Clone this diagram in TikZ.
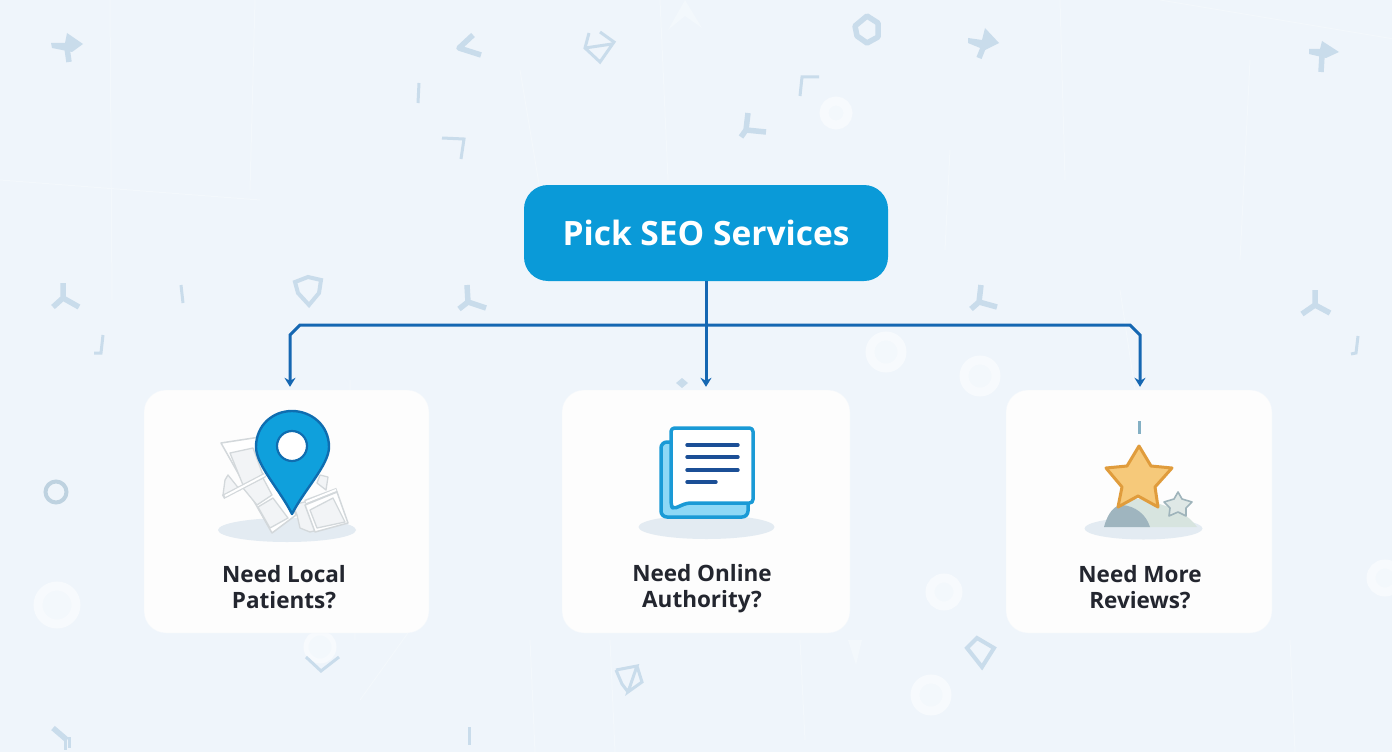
\documentclass[tikz,border=0pt]{standalone}
\usepackage{fontspec}
\setmainfont{Open Sans}
\usetikzlibrary{arrows.meta}
\definecolor{bgc}{HTML}{EFF5FB}
\definecolor{bgline}{HTML}{F3F8FC}
\definecolor{bgm}{HTML}{C9DCEB}
\definecolor{ringw}{HTML}{F7FAFD}
\definecolor{ringi}{HTML}{F3F8FC}
\definecolor{topc}{HTML}{0A9AD8}
\definecolor{connc}{HTML}{1567B2}
\definecolor{cardc}{HTML}{FDFDFD}
\definecolor{inkc}{HTML}{23262F}
\definecolor{shadowc}{HTML}{E3EBF2}
\definecolor{pinf}{HTML}{0FA0DC}
\definecolor{pind}{HTML}{0F6DB0}
\definecolor{mapl}{HTML}{D3D8DB}
\definecolor{mapf}{HTML}{F2F4F6}
\definecolor{docs}{HTML}{1A9AD6}
\definecolor{docb}{HTML}{8ED8F6}
\definecolor{docl}{HTML}{1B4F96}
\definecolor{starf}{HTML}{F6C97A}
\definecolor{stard}{HTML}{E09C3C}
\definecolor{sstarf}{HTML}{DFE8E6}
\definecolor{sstard}{HTML}{9FB4BB}
\definecolor{hilld}{HTML}{9FB5BF}
\definecolor{hilll}{HTML}{D7E4DF}
\tikzset{
  x=1pt,y=-1pt,
  bgthin/.style={draw=bgm,line width=3pt,line cap=butt,line join=miter},
  bgthick/.style={draw=bgm,line width=5.5pt,line cap=butt,line join=round},
  bgring/.style={draw=ringw,fill=ringi,line width=9pt},
  faint/.style={draw=bgline,line width=1pt},
  topbox/.style={fill=topc,rounded corners=24pt,minimum width=364pt,minimum height=96pt,text=white,font=\fontsize{33.5}{33.5}\selectfont\bfseries,inner sep=0pt},
  card/.style={fill=cardc,draw=bgline,rounded corners=22pt,minimum height=243pt,inner sep=0pt},
  lbl/.style={text=inkc,align=center,font=\fontsize{22.5}{26}\selectfont\bfseries,inner sep=0pt},
  conn/.style={draw=connc,line width=3pt,line join=miter},
  tipped/.style={conn,-{Stealth[length=9pt,width=11pt,inset=3pt]},shorten >=3pt},
  pedestal/.style={fill=shadowc,draw=none},
  mapframe/.style={draw=mapl,line width=1.5pt,fill=white,line join=round},
  mapcell/.style={draw=mapl,line width=1.3pt,fill=mapf,line join=round}
}
\begin{document}
\begin{tikzpicture}
\useasboundingbox (0,0) rectangle (1392,752);
\fill[bgc] (0,0) rectangle (1392,752);
% faint background lines
\foreach \xa/\ya/\xb/\yb in {110/0/112/300,255/0/250/190,520/70/540/190,660/0/668/180,1060/0/1065/180,1250/60/1240/260,1120/290/1135/390,350/380/355/640,530/640/535/752,610/640/615/752,1160/0/1400/40,0/180/260/200,360/700/410/630,1290/640/1295/752,800/640/805/740,950/150/945/250}{
  \draw[faint] (\xa,\ya) -- (\xb,\yb);
}
% pale rings
\draw[bgring] (836,113) circle[radius=12];
\draw[bgring] (57,605) circle[radius=19];
\draw[bgring] (886,352) circle[radius=16];
\draw[bgring] (980,376) circle[radius=16];
\draw[bgring] (944,592) circle[radius=14];
\draw[bgring] (931,695) circle[radius=16];
\draw[bgring] (1385,578) circle[radius=14];
\draw[draw=ringw,fill=ringi,line width=5pt] (320,647) circle[radius=14];
\fill[bgline] (668,30) -- (685,0) -- (702,28) -- (685,16) -- cycle;
\fill[bgline] (848,640) -- (862,640) -- (856,665) -- cycle;
% plus marks
\fill[bgm] (67,33) -- (83,44) -- (72,52) -- (52,48) -- (51,43) -- (65,43) -- cycle;
\draw[bgthick] (67,48) -- (69,62);
\fill[bgm] (985,28) -- (999,43) -- (985,50) -- (968,43) -- (968,38) -- (982,40) -- cycle;
\draw[bgthick] (983,48) -- (979,58);
\fill[bgm] (1322,41) -- (1339,52) -- (1326,58) -- (1309,54) -- (1309,49) -- (1320,49) -- cycle;
\draw[bgthick] (1322,55) -- (1321,72);
% Y marks
\draw[bgthick] (63,283) -- (63,298) -- (79,307) (63,298) -- (53,307);
\draw[bgthick] (467,285) -- (468,302) -- (486,308) (468,302) -- (459,309);
\draw[bgthick] (981,285) -- (979,302) -- (997,307) (979,302) -- (971,309);
\draw[bgthick] (1315,290) -- (1315,305) -- (1330,313) (1315,305) -- (1302,314);
\draw[bgthick] (748,113) -- (746,130) -- (766,132) (746,130) -- (741,137);
% chevrons, corners and strokes
\draw[bgthick] (473,35) -- (459,48) -- (481,55);
\draw[bgthin] (339,657) -- (321,671) -- (306,657);
\draw[bgthin] (419,83) -- (418,103);
\draw[bgthin] (442,138) -- (464,139) -- (461,159);
\draw[bgthin] (819,77) -- (802,77) -- (800,96);
\draw[bgthin] (181,285) -- (183,303);
\draw[bgthin] (103,335) -- (101,353) -- (94,353);
\draw[bgthin] (1358,336) -- (1356,353) -- (1351,354);
\draw[bgthin] (469,727) -- (469,745);
\draw[bgthick] (53,728) -- (67,740);
\draw[bgthin] (65,738) -- (65,750) (69,737) -- (69,748);
% outlined marks
\draw[bgthin] (600,32) -- (614,42) -- (600,62) -- (585,48) -- (589,33) (585,48) -- (612,44);
\draw[bgthick] (867,16) -- (878,23) -- (878,37) -- (867,43) -- (857,36) -- (855,26) -- cycle;
\draw[bgthin,line width=4pt] (295,282) -- (308,277) -- (321,280) -- (319,293) -- (309,305) -- (298,293) -- cycle;
\draw[bgthin,line width=4pt] (967,648) -- (977,638) -- (994,648) -- (982,667) -- cycle;
\draw[bgthin] (616,670) -- (637,666) -- (628,692) -- (642,682) -- (637,666) (616,670) -- (622,684) -- (628,692);
\draw[draw=bgm!75!hilld,line width=4pt] (56,492) circle[radius=10.5];
\fill[bgm] (682,378) -- (688,383) -- (682,388) -- (676,383) -- cycle;

% top box and cards
\node[topbox] (top) at (706,233) {Pick SEO Services};
\node[card,minimum width=285pt] (cardL) at (286.5,511.5) {};
\node[card,minimum width=288pt] (cardM) at (706,511.5) {};
\node[card,minimum width=266pt] (cardR) at (1139,511.5) {};

% connectors
\coordinate (bus) at (705.5,325);
\draw[tipped] (top.south) -- (cardM.north);
\draw[tipped] (bus) -- (300,325) -- (290,335) -- ([xshift=3.5pt]cardL.north);
\draw[tipped] (bus) -- (1130,325) -- (1140,335) -- ([xshift=1pt]cardR.north);

% left icon
\fill[pedestal] (287,530) ellipse[x radius=69,y radius=12];
% map bumps behind the frames
\draw[mapcell] (228,475) -- (225,480) -- (223,495) -- (240,490) -- cycle;
\draw[mapcell] (247,443) -- (252,441) -- (262,445) -- (255,452) -- cycle;
\draw[mapcell] (317,483) -- (320,475) -- (328,477) -- (326,490) -- cycle;
\draw[mapcell] (293,505) -- (297,515) -- (300,528) -- (310,532) -- (318,530) -- (312,500) -- cycle;
% left panel
\draw[mapframe] (221,443) -- (260,437) -- (296,515) -- (272,533) -- cycle;
\draw[mapcell] (230,453) -- (253,448) -- (263,475) -- (243,485) -- cycle;
\draw[mapcell] (243,488) -- (263,478) -- (272,495) -- (257,505) -- cycle;
\draw[mapcell] (258,507) -- (273,498) -- (288,518) -- (270,528) -- cycle;
\draw[mapl,line width=4.5pt] (223,497) -- (265,475);
\draw[white,line width=2pt] (225,496) -- (265,475);
% right panel
\draw[mapframe] (305,505) -- (337,492) -- (348,523) -- (315,532) -- cycle;
\draw[mapcell] (310,510) -- (333,498) -- (345,522) -- (317,528) -- cycle;
\draw[mapl,line width=4.5pt] (305,502) -- (337,490);
\draw[white,line width=2pt] (306,502) -- (336,490);
\draw[pind,fill=pinf,line width=2.4pt,line join=round] (292,514)
  .. controls (280,490) and (256,465) .. (256,447)
  .. controls (256,425) and (273,411) .. (292,411)
  .. controls (311,411) and (329,425) .. (329,447)
  .. controls (329,465) and (304,490) .. (292,514) -- cycle;
\draw[pind,fill=white,line width=2.2pt] (292,446) circle[radius=15];
\node[lbl] (txtL) at (284,587) {Need Local\\Patients?};

% middle icon
\fill[pedestal] (706.5,527) ellipse[x radius=68,y radius=12];
\draw[docs,fill=docb,line width=3.5pt,rounded corners=6pt] (661,442) rectangle (748,517);
\draw[docs,fill=white,line width=3.5pt,line join=round,rounded corners=3.5pt] (671,428) -- (753,428) -- (753,503) -- (687,503) -- (673,509) -- (671,505) -- cycle;
\foreach \yy/\xe in {445/738,457/738,470/738,482/716}{
  \draw[docl,line width=3.4pt,line cap=round] (687,\yy) -- (\xe,\yy);
}
\node[lbl] (txtM) at (702,589) {Need Online\\Authority?};

% right icon
\fill[pedestal] (1143.5,528.5) ellipse[x radius=59,y radius=11];
\fill[hilll] (1118,507) .. controls (1125,500) and (1133,497) .. (1140,499) .. controls (1165,505) and (1185,510) .. (1197,527) -- (1140,527) -- cycle;
\fill[hilld] (1104,527) .. controls (1108,512) and (1115,505) .. (1122,505) .. controls (1135,506) and (1146,514) .. (1150,527) -- cycle;
\draw[sstard,fill=sstarf,line width=1.6pt,line join=round] (1178,492) -- (1182,499) -- (1192,502) -- (1186,508) -- (1186,516) -- (1178,512) -- (1169,516) -- (1170,508) -- (1164,502) -- (1174,499) -- cycle;
\draw[stard,fill=starf,line width=3pt,line join=round] (1139,446) -- (1151,466) -- (1172,468) -- (1155,487) -- (1158,507) -- (1138,496) -- (1118,507) -- (1122,487) -- (1106,468) -- (1127,466) -- cycle;
\draw[draw=hilld!80!docs,line width=3pt] (1139.5,421) -- (1139.5,434);
\node[lbl] (txtR) at (1140,587) {Need More\\Reviews?};
\end{tikzpicture}
\end{document}
